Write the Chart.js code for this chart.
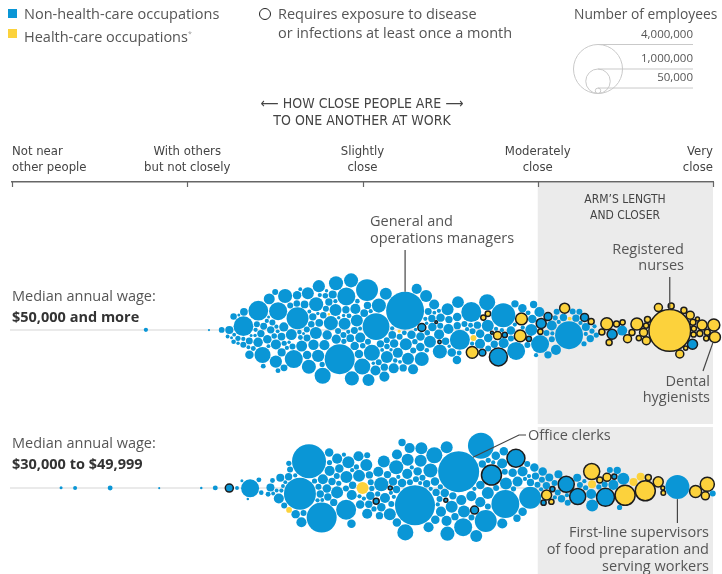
<!DOCTYPE html>
<html>
<head>
<meta charset="utf-8">
<script src="https://cdn.jsdelivr.net/npm/chart.js@4.4.1/dist/chart.umd.min.js"></script>
<style>
  body { margin: 0; background: #fff; }
  #wrap { position: relative; width: 722px; height: 574px; overflow: hidden; font-family: "Open Sans", "Noto Sans", sans-serif; color: #555; }
  #chart { position: absolute; left: 0; top: 0; }
  .t { position: absolute; white-space: nowrap; font-size: 14.5px; line-height: 17px; }
  .cond { font-family: "Liberation Sans Narrow", "DejaVu Sans Condensed", "Roboto", sans-serif; color: #444; }
  .sq { position: absolute; width: 9px; height: 9px; }
  .num { position: absolute; font-size: 11.5px; line-height: 14px; color: #555; text-align: right; }
</style>
</head>
<body>
<div id="wrap">
  <canvas id="chart" width="722" height="574"></canvas>

  <div class="sq" style="left:8px;top:9px;background:#0a96d6"></div>
  <div class="t" style="left:24px;top:5px">Non-health-care occupations</div>
  <div class="sq" style="left:8px;top:29px;background:#fcd23c"></div>
  <div class="t" style="left:24px;top:25px">Health-care occupations<sup style="font-size:7px;color:#999">*</sup></div>
  <div style="position:absolute;left:259px;top:8px;width:12px;height:12px;box-sizing:border-box;border:1.6px solid #222;border-radius:50%"></div>
  <div class="t" style="left:278px;top:5px">Requires exposure to disease</div>
  <div class="t" style="left:278px;top:24px">or infections at least once a month</div>
  <div class="t" style="left:574px;top:5px;font-size:13.8px">Number of employees</div>
  <div class="num" style="right:29px;top:27px">4,000,000</div>
  <div class="num" style="right:29px;top:51px">1,000,000</div>
  <div class="num" style="right:29px;top:70px">50,000</div>

  <div class="t cond" style="left:212px;width:300px;top:95px;text-align:center;font-size:14px">&#x27F5; HOW CLOSE PEOPLE ARE &#x27F6;<br>TO ONE ANOTHER AT WORK</div>
  <div class="t cond" style="left:545px;width:160px;top:191px;text-align:center;font-size:12px;line-height:16px">ARM&#8217;S LENGTH<br>AND CLOSER</div>

  <div class="t" style="left:12px;top:287px">Median annual wage:</div>
  <div class="t" style="left:12px;top:308px;font-weight:bold;color:#333">$50,000 and more</div>
  <div class="t" style="left:12px;top:434px">Median annual wage:</div>
  <div class="t" style="left:12px;top:455px;font-weight:bold;color:#333">$30,000 to $49,999</div>

  <div class="t" style="left:370px;top:212px">General and<br>operations managers</div>
  <div class="t" style="right:38px;top:241px;text-align:right;line-height:16px">Registered<br>nurses</div>
  <div class="t" style="right:12px;top:373px;text-align:right;line-height:16px">Dental<br>hygienists</div>
  <div class="t" style="left:528px;top:426px">Office clerks</div>
  <div class="t" style="right:13px;top:523px;text-align:right">First-line supervisors<br>of food preparation and<br>serving workers</div>
</div>

<script>
// closeness scale (0 = not near other people, 100 = very close)
const closenessTicks = [0, 25, 50, 75, 100];
const closenessLabels = [
  ["Not near", "other people"],
  ["With others", "but not closely"],
  ["Slightly", "close"],
  ["Moderately", "close"],
  ["Very", "close"]
];
const armsLength = 75;

// [closeness, employees in thousands]
// Median annual wage: $50,000 and more
const highNonHealth = [
  [19.1,30],[28.1,8],[30.1,55],[31.0,25],[31.6,15],
  [32.0,110],[32.3,35],[32.5,25],[32.8,70],[33.0,20],[33.2,45],[33.3,15],
  [33.7,650],[33.6,30],[33.9,60],[34.1,40],[34.3,100],[34.5,25],[34.6,80],[34.7,15],
  [35.0,120],[35.3,60],[35.5,30],[35.8,650],[35.9,40],[36.0,150],[36.1,20],[35.2,90],
  [36.3,430],[36.5,80],[36.7,50],[36.9,200],[37.0,30],[37.2,120],[37.4,60],[36.6,25],[37.3,15],
  [37.7,250],[38.0,90],[38.3,540],[38.5,40],[38.7,170],[38.8,60],[38.1,25],[38.9,110],[37.9,30],
  [39.2,330],[39.4,80],[39.6,200],[39.8,45],[40.0,140],[40.2,30],[39.5,100],[40.3,60],[39.9,20],
  [40.7,540],[41.1,800],[40.9,120],[41.3,70],[41.5,200],[41.6,35],[40.5,60],[41.0,25],[41.7,100],
  [41.9,330],[42.1,240],[42.3,60],[42.5,180],[42.7,90],[42.9,40],[43.0,250],[42.4,25],[43.1,70],[42.0,15],
  [43.4,330],[43.6,120],[43.8,60],[44.0,250],[44.2,30],[44.4,170],[43.5,80],[44.5,45],[43.9,20],[44.1,100],
  [44.8,430],[45.0,240],[45.2,90],[45.4,330],[45.6,50],[45.8,140],[46.0,30],[45.1,70],[45.9,110],[44.9,20],
  [46.8,1500],[46.3,330],[46.5,60],[46.9,30],[47.1,240],[47.3,100],[47.4,45],[46.6,150],[47.0,20],
  [47.6,540],[47.8,240],[48.0,90],[48.2,330],[48.4,60],[48.6,170],[48.8,35],[47.9,120],[48.5,20],[48.7,80],
  [49.0,330],[49.2,240],[49.4,120],[49.6,60],[49.8,430],[50.0,40],[50.2,170],[49.5,25],[49.9,90],
  [50.5,800],[50.8,430],[50.6,60],[51.0,240],[51.2,100],[51.4,30],[51.6,170],[51.1,50],[51.7,20],
  [52.2,1200],[51.9,90],[52.4,240],[52.6,60],[52.8,170],[53.0,35],[53.1,120],[52.0,25],
  [53.4,240],[53.6,90],[53.8,330],[54.0,50],[54.2,170],[54.4,30],[54.5,100],[53.7,20],
  [55.1,2400],[54.8,170],[55.4,60],[55.6,240],[55.8,40],[56.0,120],[54.9,25],
  [56.3,240],[56.5,90],[56.7,170],[56.9,50],[57.1,330],[57.3,30],[57.4,120],[56.6,20],
  [57.6,170],[57.8,60],[58.0,240],[58.2,35],[58.4,120],[58.6,80],[58.8,20],
  [59.0,240],[59.3,90],[59.5,170],[59.8,50],[60.0,120],[60.2,25],
  [60.5,170],[60.8,330],[61.0,60],[61.3,120],[61.5,30],[61.7,90],
  [62.0,240],[62.3,90],[62.6,170],[62.9,40],[63.1,120],[62.5,20],
  [63.4,230],[63.8,666],[64.0,90],[64.3,60],[64.5,30],[63.6,120],
  [65.3,666],[64.8,120],[65.5,40],[66.0,60],
  [66.3,170],[66.8,90],[67.4,120],[66.5,30],
  [68.5,430],[67.8,240],[68.7,60],[68.3,30],[68.9,120],
  [69.9,960],[69.5,90],[70.2,30],
  [71.3,540],[70.6,120],[71.0,60],[71.6,30],[70.8,170],
  [72.0,90],[72.6,120],[73.1,40],
  [73.5,240],[73.9,120],[74.2,60],[74.5,170],[73.7,30],
  [75.2,540],[74.8,90],[75.9,60],[75.0,30],
  [76.3,90],[76.9,60],[77.2,170],[76.7,30],[77.4,45],
  [77.9,167],[78.3,60],[78.0,30],[78.8,90],
  [79.2,1300],[79.7,60],[80.2,90],[80.0,30],
  [80.6,60],[81.0,107],[81.7,30],[80.8,45],
  [82.3,90],[82.8,45],[83.0,30],[83.4,45],
  [86.8,167]
];
const highHealth = [[46.5,10],[55.9,15],[65.2,60],[79.4,25]];
const highNonHealthExposed = [
  [57.5,107],[60.3,12],[61.2,20],[67.1,80],[68.1,15],[69.8,540],[70.1,45],
  [72.9,45],[75.6,167],[76.5,107],[81.5,107],[85.7,167],[96.2,167]
];
const highHealthExposed = [
  [65.8,230],[67.2,50],[66.6,45],[69.2,107],[72.4,230],[72.2,230],[75.7,45],[78.7,167],
  [82.0,60],[84.0,60],[84.9,240],[85.3,60],[87.0,45],[86.4,60],[87.9,107],[88.5,60],
  [89.2,240],[90.0,107],[89.6,45],[90.6,60],[91.0,107],[92.5,107],[92.0,45],
  [93.9,2900],[94.0,60],[95.0,107],[95.2,45],[95.5,60],[96.3,60],[96.5,107],[97.1,45],
  [96.8,30],[97.4,25],[98.6,167],[98.0,60],[100,240],[100,200],[99.4,45],[99.8,60]
];

// Median annual wage: $30,000 to $49,999
const midNonHealth = [
  [7.0,15],[9.0,27],[14.0,40],[21.0,7],[27.0,10],[29.0,40],[32.1,25],[33.0,15],[34.0,540],[33.7,10],[35.0,40],[35.2,35],
  [36.9,40],[37.0,25],[36.9,107],[37.1,40],[38.5,25],
  [39.4,107],[39.5,167],[40.1,45],[39.8,25],[40.3,60],[39.2,30],
  [41.8,1700],[40.6,90],[41.0,60],[41.4,120],[40.9,25],
  [42.8,1925],[42.2,170],[42.5,60],[43.0,90],[42.0,30],[43.1,45],
  [44.2,1500],[43.5,120],[43.8,60],[44.4,170],[43.4,30],[44.5,90],
  [45.8,240],[44.8,170],[45.2,90],[45.5,45],[45.0,120],[46.0,60],[44.9,25],
  [46.5,666],[46.8,170],[47.1,90],[47.3,240],[46.3,45],[47.4,30],[46.6,120],
  [47.7,240],[48.0,120],[48.3,170],[48.6,60],[48.8,90],[47.9,30],[48.4,45],
  [49.0,170],[49.3,120],[49.6,60],[50.1,90],[50.2,30],[49.4,240],
  [51.1,170],[50.5,240],[50.8,90],[51.4,120],[51.6,45],[50.7,30],[51.3,60],
  [52.2,330],[51.9,170],[52.7,120],[53.0,90],[52.9,30],[52.1,45],
  [53.5,240],[53.8,170],[54.1,90],[54.4,120],[53.7,45],[54.3,30],
  [54.8,240],[55.1,170],[55.4,120],[55.7,330],[56.0,60],[55.0,30],[55.5,90],
  [56.3,430],[56.6,170],[57.0,120],[57.3,60],[56.8,240],[57.4,30],[56.5,90],
  [57.8,2665],[58.2,170],[58.5,120],[58.8,240],[58.0,60],[58.6,30],
  [59.2,430],[59.5,170],[59.8,240],[60.1,120],[59.0,60],[60.2,30],[59.6,90],
  [60.5,240],[60.8,170],[61.1,330],[61.4,120],[61.7,60],[60.6,30],[61.0,90],
  [62.1,330],[62.4,170],[62.7,240],[63.0,90],[62.2,45],[62.9,120],
  [63.6,2800],[64.0,170],[64.3,240],[63.9,60],[64.5,90],
  [64.6,540],[65.0,170],[65.4,120],[65.8,240],[65.2,60],[65.9,30],
  [66.3,1125],[67.0,170],[67.3,240],[66.8,90],[67.4,45],
  [67.8,800],[68.1,120],[68.4,170],[68.6,60],[68.2,30],
  [69.3,1300],[69.6,170],[70.0,120],[70.2,60],[69.8,240],
  [70.5,170],[70.9,120],[71.5,90],[71.7,45],
  [72.0,170],[72.4,90],[72.8,120],[73.1,60],[72.6,30],
  [73.6,800],[73.9,90],[74.2,120],[74.5,60],[73.4,30],
  [75.0,120],[75.3,60],[75.7,90],[75.9,30],
  [76.5,107],[76.9,60],
  [78.2,107],[77.8,60],[78.5,90],[77.6,30],
  [79.4,60],[79.8,30],
  [80.6,107],[81.2,60],[81.5,30],
  [82.0,167],[82.9,240],[82.3,45],
  [84.3,60],[83.6,45],
  [85.7,167],[85.3,60],
  [87.1,240],[86.5,90],[86.9,45],
  [95.0,960],
  [99.3,60]
];
const midHealth = [[40.8,55],[49.8,240],[82.9,107],[88.9,107],[89.9,107]];
const midNonHealthExposed = [
  [31.0,107],[52.4,60],[53.4,27],[63.3,27],[66.6,107],[68.8,666],[71.2,540],
  [75.5,45],[77.0,45],[79.0,430],[80.9,430],[84.4,540],[85.7,45]
];
const midHealthExposed = [
  [76.2,167],[76.7,45],[82.8,430],[84.2,60],[85.0,107],[87.7,666],[90.0,666],
  [90.3,60],[92.0,167],[92.9,35],[93.0,25],[97.2,240],[99.2,330],[99.2,107]
];

// labelled occupations: [row, closeness, employees]
const labelled = {
  managers: [0, 55.1, 2400],
  nurses: [0, 93.9, 2900],
  hygienists: [0, 100, 200],
  clerks: [1, 63.6, 2800],
  supervisors: [1, 95.0, 960]
};

const BLUE = '#0a96d6';
const YELLOW = '#fcd23c';
const OUTLINE = '#1c1c1c';
const rowCenters = [330, 488];
const condFont = "'Liberation Sans Narrow', 'DejaVu Sans Condensed', Roboto, sans-serif";

function radiusFor(thousands) {
  return 24.5 * Math.sqrt(thousands / 4000);
}

function buildRow(groups) {
  const nodes = [];
  groups.forEach((g, kind) => {
    g.forEach(([c, e]) => nodes.push({ closeness: c, employment: e, kind: kind, r: radiusFor(e) }));
  });
  nodes.sort((a, b) => a.closeness - b.closeness || b.employment - a.employment);
  return nodes;
}

const rows = [
  buildRow([highNonHealth, highHealth, highNonHealthExposed, highHealthExposed]),
  buildRow([midNonHealth, midHealth, midNonHealthExposed, midHealthExposed])
];

function collide(nodes, pad, strength) {
  for (let i = 0; i < nodes.length; i++) {
    const a = nodes[i];
    for (let j = i + 1; j < nodes.length; j++) {
      const b = nodes[j];
      let dx = (a.x + a.vx) - (b.x + b.vx);
      let dy = (a.y + a.vy) - (b.y + b.vy);
      const rr = a.r + b.r + pad;
      if (Math.abs(dx) > rr || Math.abs(dy) > rr) continue;
      let l = dx * dx + dy * dy;
      if (l < rr * rr) {
        if (l === 0) { dy = (i % 2 ? 1 : -1) * 1e-3; l = dy * dy; }
        l = Math.sqrt(l);
        const f = (rr - l) / l * strength;
        const wa = (b.r * b.r) / (a.r * a.r + b.r * b.r);
        a.vx += dx * f * wa; a.vy += dy * f * wa;
        b.vx -= dx * f * (1 - wa); b.vy -= dy * f * (1 - wa);
      }
    }
  }
}

// packs the circles of one row around its centre line, keeping each near its x value
function swarm(nodes, cy) {
  nodes.forEach((n, i) => {
    n.x = n.tx;
    n.y = cy + (((i * 7) % 11) - 5) * 0.6;
    n.vx = 0; n.vy = 0;
  });
  let alpha = 1;
  const decay = 1 - Math.pow(0.001, 1 / 300);
  for (let t = 0; t < 320; t++) {
    alpha += (0 - alpha) * decay;
    nodes.forEach(n => {
      n.vx += (n.tx - n.x) * 0.25 * alpha;
      n.vy += (cy - n.y) * 0.045 * alpha;
    });
    collide(nodes, 0.7, 0.7);
    collide(nodes, 0.7, 0.7);
    nodes.forEach(n => { n.vx *= 0.6; n.vy *= 0.6; n.x += n.vx; n.y += n.vy; });
  }
  for (let k = 0; k < 60; k++) {
    nodes.forEach(n => { n.vx = 0; n.vy = 0; });
    collide(nodes, 0.7, 1);
    nodes.forEach(n => { n.x += n.vx; n.y += n.vy; });
  }
}

function findNode(key) {
  const [row, c, e] = labelled[key];
  return rows[row].find(n => n.closeness === c && n.employment === e);
}

function line(ctx, x1, y1, x2, y2) {
  ctx.beginPath(); ctx.moveTo(x1, y1); ctx.lineTo(x2, y2); ctx.stroke();
}

const decor = {
  id: 'decor',
  beforeDraw(chart) {
    const { ctx, scales: { x, y } } = chart;
    const x0 = x.getPixelForValue(armsLength), x1 = x.getPixelForValue(100);
    ctx.save();
    ctx.fillStyle = '#ebebeb';
    ctx.fillRect(x0, 183, x1 - x0, 241);
    ctx.fillRect(x0, 427, x1 - x0, 147);
    ctx.strokeStyle = '#e3e3e3';
    ctx.lineWidth = 1.5;
    rowCenters.forEach(c => line(ctx, 10, y.getPixelForValue(c), x1, y.getPixelForValue(c)));
    ctx.restore();
  },
  afterDraw(chart) {
    const { ctx, scales: { x } } = chart;
    ctx.save();
    // tick marks hanging below the axis
    ctx.strokeStyle = '#666';
    ctx.lineWidth = 1.2;
    closenessTicks.forEach(v => {
      const px = Math.round(x.getPixelForValue(v)) + 0.5;
      line(ctx, px, 182, px, 187);
    });
    // size legend
    ctx.strokeStyle = '#c9c9c9';
    ctx.lineWidth = 1;
    const lx = 598, bottom = 93.5;
    [4000, 1000, 50].forEach(v => {
      const r = radiusFor(v);
      ctx.beginPath(); ctx.arc(lx, bottom - r, r, 0, Math.PI * 2); ctx.stroke();
      line(ctx, lx, bottom - 2 * r, 693, bottom - 2 * r);
    });
    // annotation leaders
    ctx.strokeStyle = '#444';
    ctx.lineWidth = 1.2;
    const m = findNode('managers');
    line(ctx, m.px, 250, m.px, m.py - m.r);
    const n = findNode('nurses');
    line(ctx, n.px, 277, n.px, n.py - n.r);
    const h = findNode('hygienists');
    line(ctx, 703, 371, h.px - 2, h.py + h.r);
    const c = findNode('clerks');
    ctx.beginPath();
    ctx.moveTo(526, 435); ctx.lineTo(519, 435);
    ctx.lineTo(c.px + c.r * 0.7, c.py - c.r * 0.7);
    ctx.stroke();
    const s = findNode('supervisors');
    line(ctx, s.px, s.py + s.r, s.px, 523);
    ctx.restore();
  }
};

const chart = new Chart(document.getElementById('chart'), {
  type: 'bubble',
  data: {
    datasets: rows.map((nodes, ri) => ({
      label: ri === 0 ? '$50,000 and more' : '$30,000 to $49,999',
      data: nodes.map(n => ({ x: n.closeness, y: rowCenters[ri], r: n.r })),
      backgroundColor: nodes.map(n => (n.kind === 1 || n.kind === 3) ? YELLOW : BLUE),
      borderColor: nodes.map(n => n.kind >= 2 ? OUTLINE : 'rgba(0,0,0,0)'),
      borderWidth: nodes.map(n => n.kind >= 2 ? 1.5 : 0),
      clip: false
    }))
  },
  options: {
    responsive: false,
    devicePixelRatio: 1,
    animation: false,
    events: [],
    layout: { autoPadding: false, padding: { left: 12, right: 9, top: 0, bottom: 0 } },
    plugins: { legend: { display: false }, tooltip: { enabled: false } },
    scales: {
      x: {
        type: 'linear',
        position: 'top',
        min: 0,
        max: 100,
        afterBuildTicks: (scale) => { scale.ticks = closenessTicks.map(v => ({ value: v })); },
        afterFit: (scale) => { scale.height = 182; },
        ticks: {
          callback: (value, index) => closenessLabels[index],
          align: 'inner',
          padding: 6,
          maxRotation: 0,
          autoSkip: false,
          color: '#444',
          font: { family: condFont, size: 13, lineHeight: 1.23 }
        },
        grid: { display: false, drawTicks: false },
        border: { display: true, color: '#666', width: 1.5 }
      },
      y: { display: false, min: 182, max: 574, reverse: true }
    }
  },
  plugins: [decor]
});

// lay the bubbles out in pixel space through the chart's own scales
const xs = chart.scales.x, ys = chart.scales.y;
rows.forEach((nodes, ri) => {
  const cy = ys.getPixelForValue(rowCenters[ri]);
  nodes.forEach(n => { n.tx = xs.getPixelForValue(n.closeness); });
  swarm(nodes, cy);
  nodes.forEach(n => { n.px = n.x; n.py = n.y; });
  chart.data.datasets[ri].data = nodes.map(n => ({
    x: xs.getValueForPixel(n.x),
    y: ys.getValueForPixel(n.y),
    r: n.r
  }));
});
chart.update();
</script>
</body>
</html>
